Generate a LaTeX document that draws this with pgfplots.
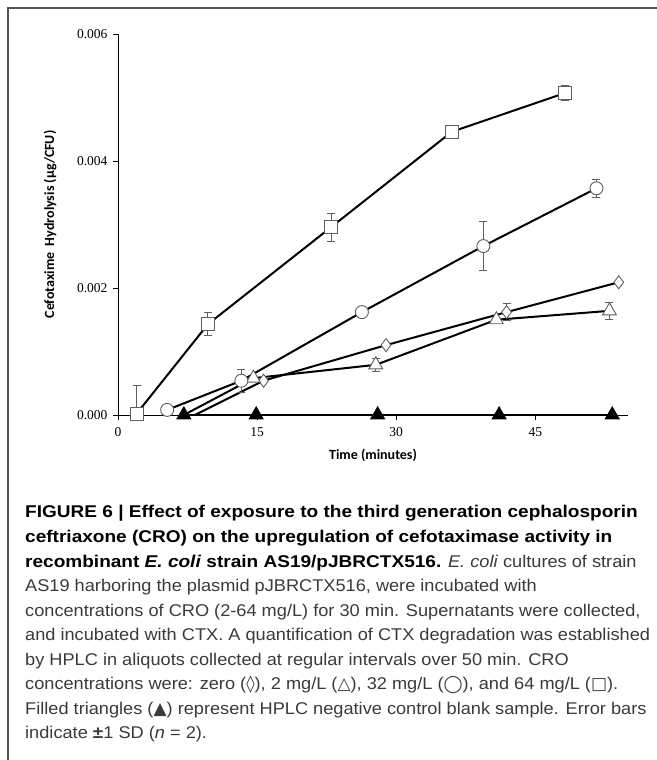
\documentclass[border=0pt]{standalone}
\usepackage{pgfplots}
\pgfplotsset{compat=1.18}
\usepackage{fontspec}
\setmainfont[FakeStretch=1.07, BoldFeatures={FakeStretch=1.12}, BoldItalicFeatures={FakeStretch=1.12}]{Liberation Sans}
\newfontfamily\labfont{Carlito}
\newfontfamily\tickfont{Liberation Serif}
\newfontfamily\symfont{DejaVu Sans}
\definecolor{markgray}{HTML}{5E5E5E}
\definecolor{captext}{HTML}{3A3A3A}
\definecolor{framegray}{HTML}{555555}

\begin{document}
\begin{tikzpicture}[x=1bp,y=1bp]
\useasboundingbox (0,0) rectangle (657,760);
% frame
\draw[framegray, line width=1.6bp] (8,0) -- (8,752) -- (657,752);

\begin{axis}[
    at={(118bp,345bp)}, anchor=south west,
    scale only axis, width=510bp, height=381bp,
    xmin=0, xmax=55, ymin=0, ymax=0.006,
    axis x line*=bottom, axis y line*=left,
    axis line style={-, black, line width=0.8bp},
    tick align=outside, major tick length=5bp,
    tick style={black, line width=0.8bp},
    xtick={0,15,30,45}, xticklabels={0,15,30,45},
    ytick={0,0.002,0.004,0.006}, yticklabels={0.000,0.002,0.004,0.006},
    scaled y ticks=false,
    ticklabel style={font=\tickfont\fontsize{13.5bp}{15bp}\selectfont},
    xticklabel style={yshift=-4bp},
    yticklabel style={xshift=-2bp},
    xlabel={Time (minutes)},
    ylabel={Cefotaxime\ \ Hydrolysis (µg/CFU)},
    every axis x label/.style={at={(axis description cs:0.5,-0.105)}, anchor=center,
        font=\labfont\bfseries\fontsize{14bp}{16bp}\selectfont},
    every axis y label/.style={at={(axis description cs:-0.133,0.5)}, rotate=90, anchor=center,
        font=\labfont\bfseries\fontsize{14bp}{16bp}\selectfont},
    clip=false,
    series/.style={black, line width=2bp, mark size=6.5bp,
        mark options={draw=markgray, fill=white, line width=0.9bp, solid},
        error bars/y dir=both, error bars/y explicit,
        error bars/error bar style={markgray, line width=0.9bp},
        error bars/error mark options={rotate=90, markgray, mark size=4bp, line width=0.9bp}},
]
% zero CRO (diamond)
\addplot[series, mark=diamond*, mark indices={2,3,4,5}] coordinates {
    (8.3,0) +- (0,0)
    (15.7,0.00054) +- (0,0)
    (28.9,0.00110) +- (0,0)
    (41.9,0.00162) +- (0,0.00013)
    (54.0,0.00209) +- (0,0)
};
% 2 mg/L (triangle)
\addplot[series, mark=triangle*, mark size=8bp, mark indices={2,3,4,5}] coordinates {
    (7.1,0) +- (0,0)
    (14.6,0.00058) +- (0,0)
    (27.8,0.00079) +- (0,0.00010)
    (40.8,0.00150) +- (0,0)
    (53.0,0.00164) +- (0,0.00014)
};
% 32 mg/L (circle)
\addplot[series, mark=*] coordinates {
    (5.3,0.00008) +- (0,0)
    (13.3,0.00054) +- (0,0.00018)
    (26.3,0.00162) +- (0,0)
    (39.4,0.00266) +- (0,0.00038)
    (51.6,0.00357) +- (0,0.00014)
};
% 64 mg/L (square)
\addplot[series, mark=square*] coordinates {
    (2.0,0.00002) += (0,0.00044) -= (0,0)
    (9.7,0.00143) +- (0,0.00018)
    (23.0,0.00296) +- (0,0.00022)
    (36.0,0.00446) +- (0,0)
    (48.2,0.00507) +- (0,0.00012)
};
% HPLC blank (filled triangles)
\addplot[black, line width=2bp, mark=triangle*, mark size=7bp,
    mark options={fill=black, draw=black, solid}] coordinates {
    (7.1,0) (14.9,0) (28.0,0) (41.1,0) (53.3,0)
};
\end{axis}

% caption
\begin{scope}[every node/.style={anchor=base west, inner sep=0pt,
    font=\fontsize{17bp}{19bp}\selectfont, text=captext}]
\node at (25,242.0) {\textbf{\color{black}FIGURE 6 | Effect of exposure to the third generation cephalosporin}};
\node at (25,217.5) {\textbf{\color{black}ceftriaxone (CRO) on the upregulation of cefotaximase activity in}};
\node at (25,192.9) {\textbf{\color{black}recombinant \textit{E. coli} strain AS19/pJBRCTX516.} \textit{E. coli} cultures of strain};
\node at (25,168.4) {AS19 harboring the plasmid pJBRCTX516, were incubated with};
\node at (25,143.8) {concentrations of CRO (2-64 mg/L) for 30 min. Supernatants were collected,};
\node at (25,119.3) {and incubated with CTX. A quantification of CTX degradation was established};
\node at (25,94.7) {by HPLC in aliquots collected at regular intervals over 50 min. CRO};
\node at (25,70.2) {concentrations were: zero ({\symfont ◊}), 2 mg/L ({\symfont △}), 32 mg/L ({\symfont ◯}), and 64 mg/L ({\symfont □}).};
\node at (25,45.6) {Filled triangles ({\symfont ▲}) represent HPLC negative control blank sample. Error bars};
\node at (25,21.1) {indicate \textbf{±}1 SD (\textit{n} = 2).};
\end{scope}
\end{tikzpicture}
\end{document}
